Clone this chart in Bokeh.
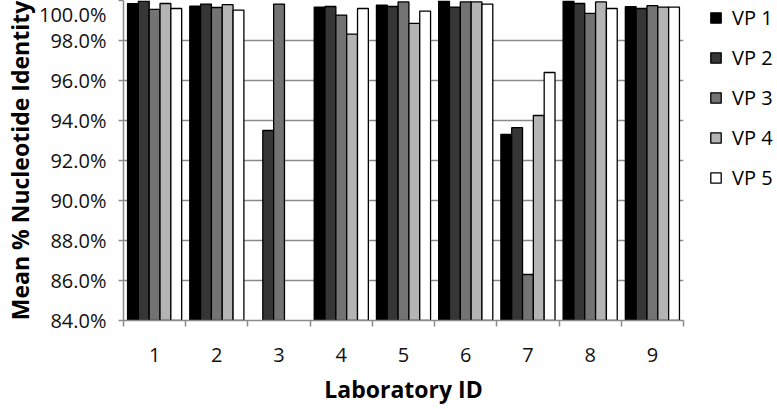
from bokeh.plotting import figure
from bokeh.models import (ColumnDataSource, FixedTicker, PrintfTickFormatter,
                          Range1d, Legend, LegendItem)
from bokeh.embed import file_html
from bokeh.resources import INLINE

# ---- data ----
labs = ["1", "2", "3", "4", "5", "6", "7", "8", "9"]
series = ["VP 1", "VP 2", "VP 3", "VP 4", "VP 5"]
nan = float("nan")
vp1 = [99.84, 99.72, nan, 99.67, 99.77, 99.97, 93.30, 99.97, 99.69]
vp2 = [99.97, 99.82, 93.50, 99.70, 99.70, 99.67, 93.64, 99.85, 99.60]
vp3 = [99.56, 99.65, 99.82, 99.27, 99.93, 99.93, 86.30, 99.36, 99.74]
vp4 = [99.85, 99.79, nan, 98.32, 98.86, 99.93, 94.25, 99.93, 99.67]
vp5 = [99.60, 99.52, nan, 99.60, 99.47, 99.82, 96.40, 99.60, 99.67]
y_ticks = [84, 86, 88, 90, 92, 94, 96, 98, 100]

values = [vp1, vp2, vp3, vp4, vp5]
colors = ["#000000", "#363636", "#737373", "#b4b4b4", "#ffffff"]

FONT = "Open Sans"
FW, FH = 560, 320
ML, MR, MT, MB = 115, 92, 0, 70

p = figure(frame_width=FW, frame_height=FH, output_backend="svg",
           toolbar_location=None,
           x_range=Range1d(0.5, len(labs) + 0.5), y_range=Range1d(84, 100),
           min_border_left=ML, min_border_right=MR, min_border_top=MT,
           min_border_bottom=MB)
p.outline_line_color = None
p.background_fill_color = "white"

bw = 0.174
renderers = []
for k, (name, vals, col) in enumerate(zip(series, values, colors)):
    xs = [i + 1 + (k - 2) * bw for i in range(len(labs))]
    src = ColumnDataSource(dict(x=xs, top=vals))
    r = p.vbar(x="x", top="top", bottom=0, width=bw, source=src,
               fill_color=col, line_color="#000000", line_width=1.3)
    renderers.append(r)

# axes
p.xaxis.ticker = FixedTicker(ticks=list(range(1, len(labs) + 1)),
                             minor_ticks=[i + 0.5 for i in range(len(labs) + 1)])
p.xaxis.major_label_overrides = {i + 1: lab for i, lab in enumerate(labs)}
p.xaxis.major_tick_out = 0
p.xaxis.major_tick_in = 0
p.xaxis.minor_tick_out = 6
p.xaxis.minor_tick_in = 0
p.xaxis.minor_tick_line_color = "#8a8a8a"
p.xaxis.minor_tick_line_width = 1.5
p.xaxis.major_label_standoff = 21
p.xaxis.axis_label = "Laboratory ID"
p.xaxis.axis_label_standoff = 8

p.yaxis.ticker = FixedTicker(ticks=y_ticks)
p.yaxis.formatter = PrintfTickFormatter(format="%.1f%%")
p.yaxis.major_tick_out = 5
p.yaxis.major_tick_in = 0
p.yaxis.minor_tick_out = 0
p.yaxis.minor_tick_in = 0
p.yaxis.major_tick_line_color = "#8a8a8a"
p.yaxis.major_tick_line_width = 1.5
p.yaxis.major_label_standoff = 12
p.yaxis.axis_label = "Mean % Nucleotide Identity"
p.yaxis.axis_label_standoff = 0

for ax in (p.xaxis, p.yaxis):
    ax.axis_line_color = "#8a8a8a"
    ax.axis_line_width = 1.5
    ax.major_label_text_font = FONT
    ax.major_label_text_font_size = "20px"
    ax.major_label_text_color = "#111111"
    ax.axis_label_text_font = FONT
    ax.axis_label_text_font_size = "23px"
    ax.axis_label_text_font_style = "bold"
    ax.axis_label_text_color = "#000000"

p.xgrid.grid_line_color = None
p.ygrid.ticker = FixedTicker(ticks=y_ticks)
p.ygrid.grid_line_color = "#8a8a8a"
p.ygrid.grid_line_width = 1.5

items = [LegendItem(label=s, renderers=[r]) for s, r in zip(series, renderers)]
legend = Legend(items=items, location=(26, 129),
                orientation="vertical", margin=0, padding=0,
                glyph_width=13, glyph_height=13, label_standoff=10,
                label_height=20, spacing=13,
                label_text_font=FONT, label_text_font_size="20px",
                label_text_color="#000000",
                border_line_color=None, background_fill_alpha=0)
p.add_layout(legend, "right")

open("out.html", "w").write(file_html(p, INLINE))
